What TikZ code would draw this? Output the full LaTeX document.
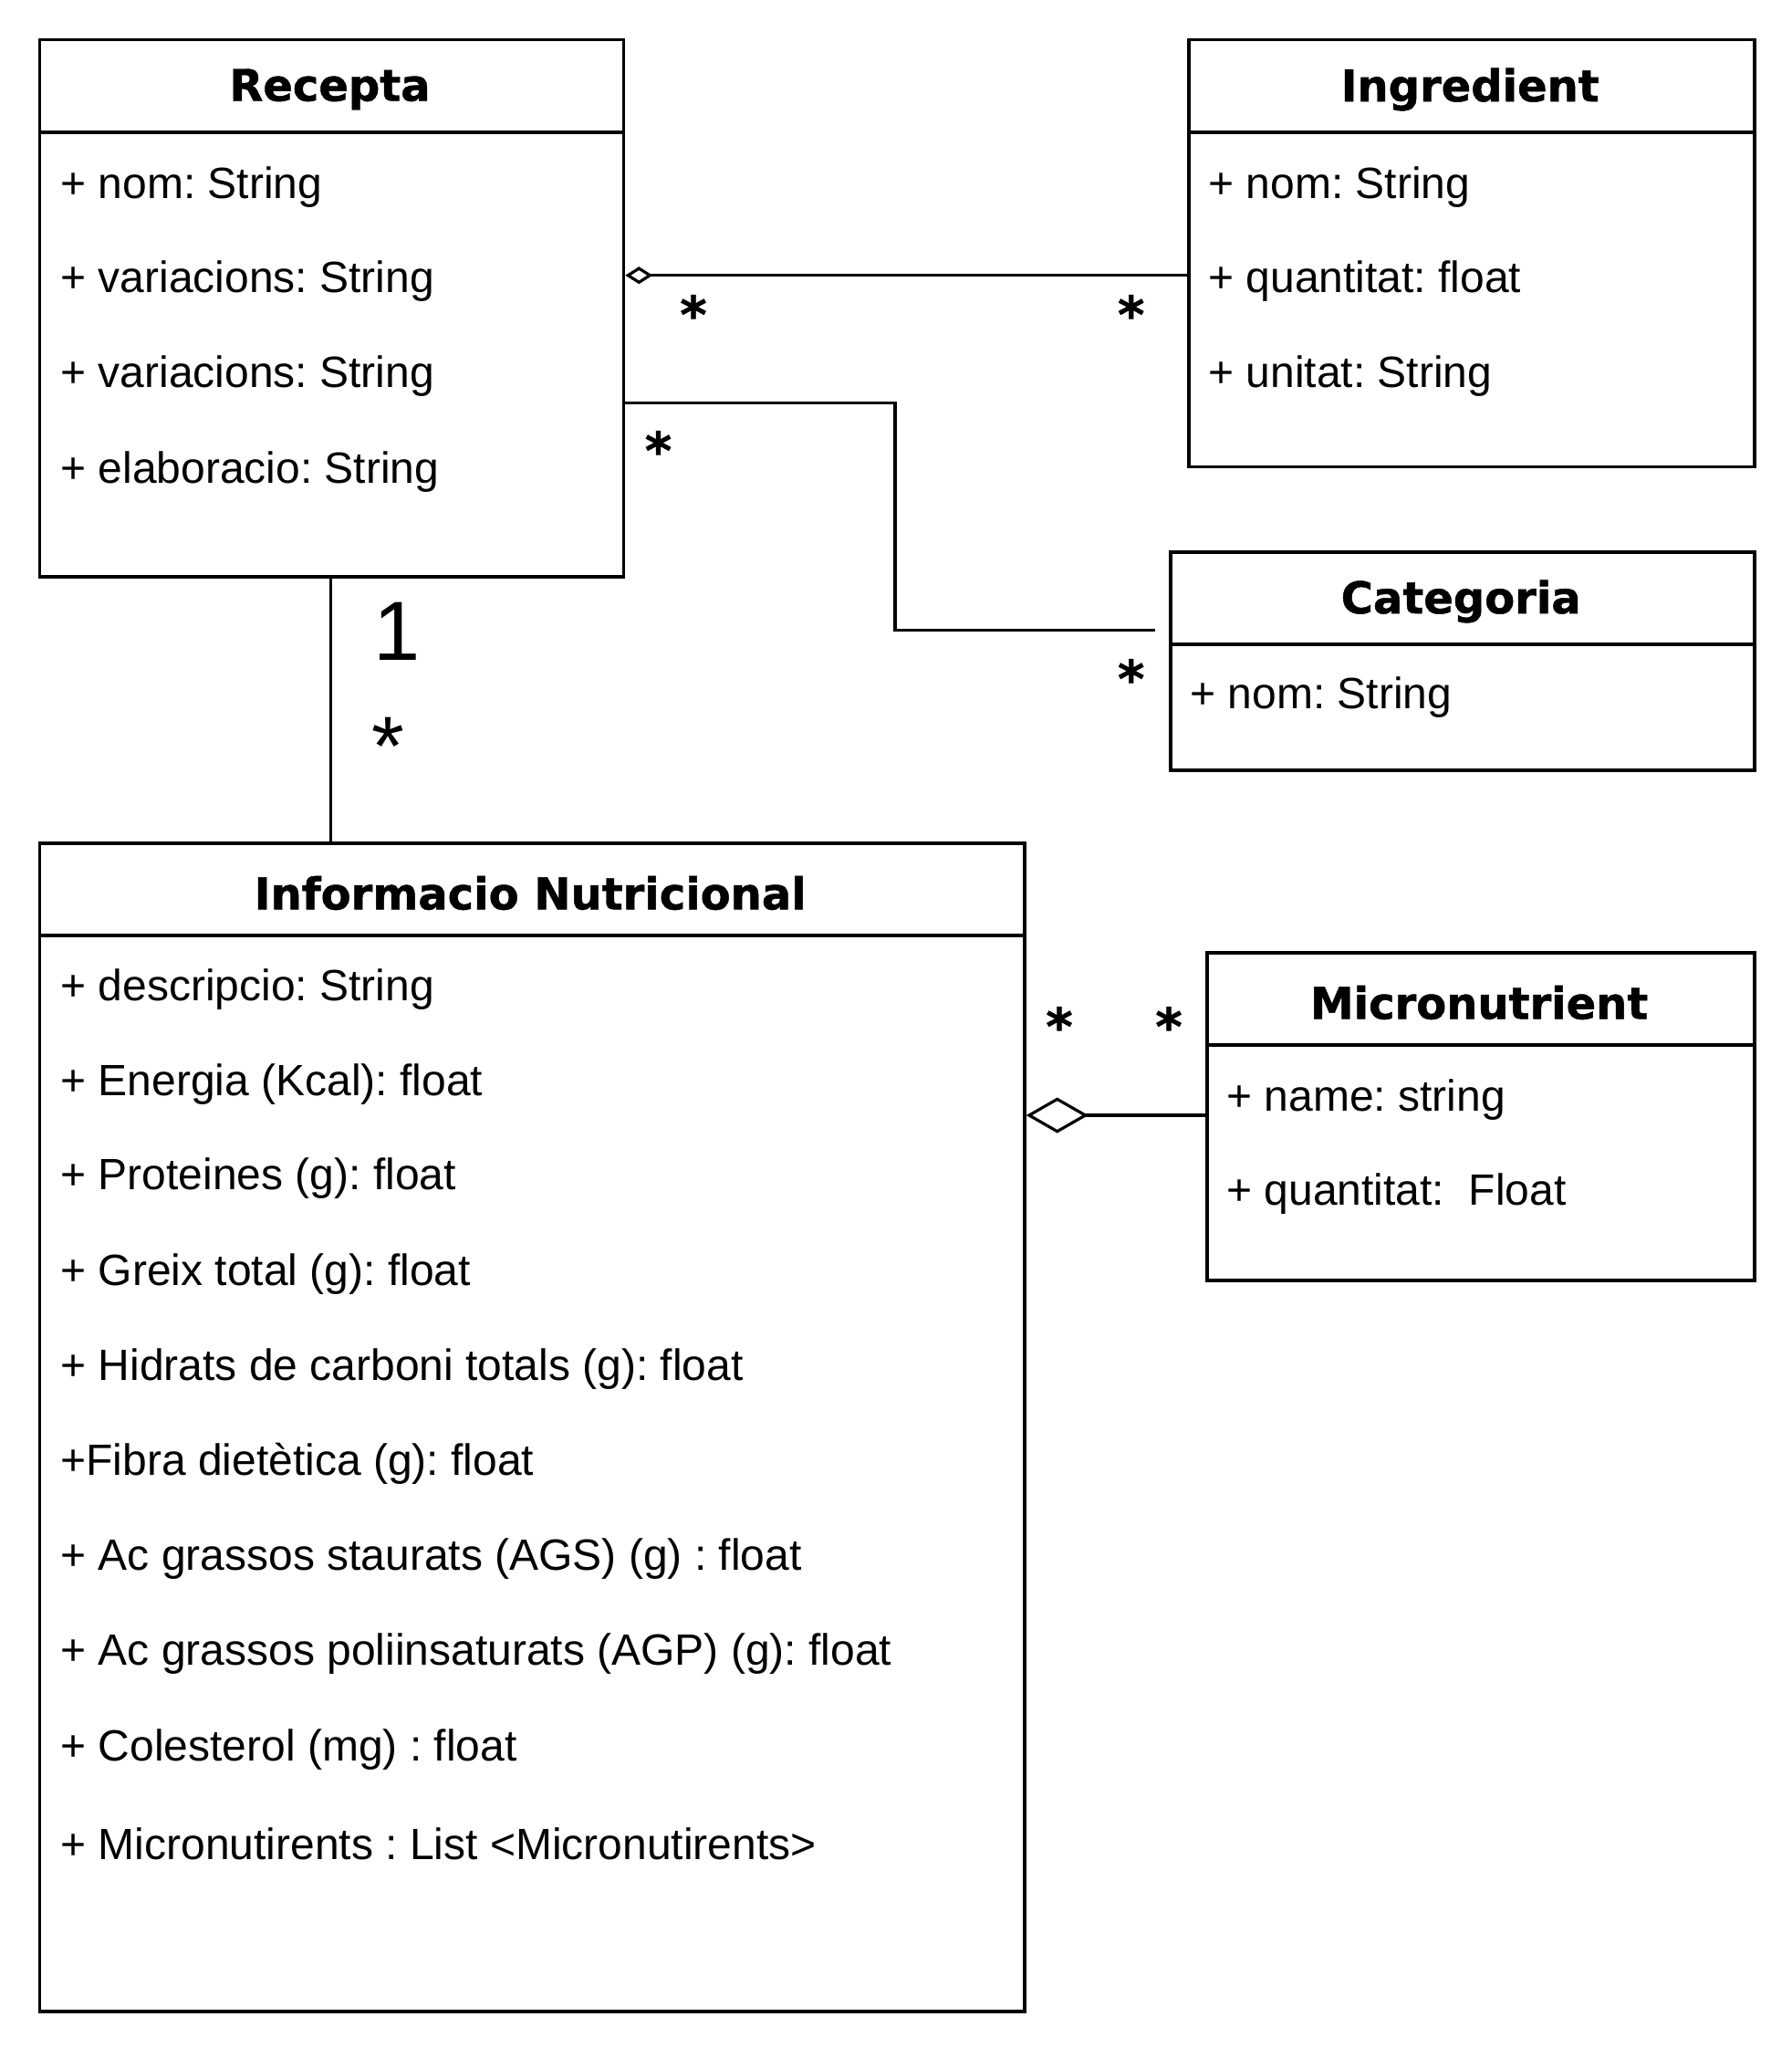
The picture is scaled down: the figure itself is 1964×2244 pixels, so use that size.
\documentclass[tikz,border=0pt]{standalone}
\usepackage{fontspec}
\setmainfont{Liberation Sans}
\newfontfamily\hdrfont{DejaVu Sans Bold}[FakeBold=1]
\usetikzlibrary{arrows.meta}
\frenchspacing
\tikzset{
  clsbox/.style={draw, line width=1.9pt, inner sep=0pt, anchor=north west},
  title/.style={font=\hdrfont\fontsize{24}{28}\selectfont, inner sep=0pt},
  attr/.style={font=\frenchspacing\fontsize{24}{28}\selectfont, anchor=west, inner sep=0pt},
  sep/.style={line width=1.9pt},
  conn/.style={line width=1.6pt},
  mult/.style={font=\hdrfont\fontsize{28}{32}\selectfont, inner sep=0pt},
  bigmult/.style={font=\fontsize{46}{50}\selectfont, inner sep=0pt},
}
\begin{document}
\begin{tikzpicture}[x=0.5pt,y=-0.5pt]
\useasboundingbox (0,0) rectangle (1964,2244);
% Recepta
\node[clsbox, minimum width=320pt, minimum height=294.2pt] (rec) at (41.5,41.5) {};
\draw[sep] (41.5,144.6) -- (681.5,144.6);
\node[title] (recT) at (361.5,98) {Recepta};
\node[attr] (rec1) at (66,205) {+ nom: String};
\node[attr] (rec2) at (66,308.5) {+ variacions: String};
\node[attr] (rec3) at (66,412.5) {+ variacions: String};
\node[attr] (rec4) at (66,517) {+ elaboracio: String};
% Ingredient
\node[clsbox, minimum width=310pt, minimum height=234pt] (ing) at (1301.2,41.5) {};
\draw[sep] (1301.2,144.6) -- (1921.2,144.6);
\node[title] (ingT) at (1611.2,98) {Ingredient};
\node[attr] (ing1) at (1324,205) {+ nom: String};
\node[attr] (ing2) at (1324,308.5) {+ quantitat: float};
\node[attr] (ing3) at (1324,412.5) {+ unitat: String};
% Categoria
\node[clsbox, minimum width=320pt, minimum height=119.5pt] (cat) at (1281.2,602.7) {};
\draw[sep] (1281.2,705.7) -- (1921.2,705.7);
\node[title] (catT) at (1601.2,659) {Categoria};
\node[attr] (cat1) at (1304,764.5) {+ nom: String};
% Informacio Nutricional
\node[clsbox, minimum width=539.7pt, minimum height=639.9pt] (inf) at (41.5,921.9) {};
\draw[sep] (41.5,1025) -- (1120.9,1025);
\node[title] (infT) at (581.2,978.5) {Informacio Nutricional};
\node[attr] (inf1) at (66,1084) {+ descripcio: String};
\node[attr] (inf2) at (66,1188.3) {+ Energia (Kcal): float};
\node[attr] (inf3) at (66,1291.5) {+ Proteines (g): float};
\node[attr] (inf4) at (66,1396) {+ Greix total (g): float};
\node[attr] (inf5) at (66,1500.4) {+ Hidrats de carboni totals (g): float};
\node[attr] (inf6) at (66,1603.5) {+Fibra dietètica (g): float};
\node[attr] (inf7) at (66,1708) {+ Ac grassos staurats (AGS) (g) : float};
\node[attr] (inf8) at (66,1812.5) {+ Ac grassos poliinsaturats (AGP) (g): float};
\node[attr] (inf9) at (66,1917) {+ Colesterol (mg) : float};
\node[attr] (inf10) at (66,2020) {+ Micronutirents : List <Micronutirents>};
% Micronutrient
\node[clsbox, minimum width=299.8pt, minimum height=179.6pt] (mic) at (1321.3,1042.1) {};
\draw[sep] (1321.3,1145.2) -- (1920.9,1145.2);
\node[title] (micT) at (1621.1,1098.5) {Micronutrient};
\node[attr] (mic1) at (1344,1205.5) {+ name: string};
\node[attr] (mic2) at (1344,1308.5) {+ quantitat:\ \ Float};
% connector levels
\coordinate (lvA) at (0,301.7);
\coordinate (lvB) at (0,441.5);
\coordinate (lvD) at (0,1222);
\coordinate (catEnd) at (1265.5,690.5);
% connectors
\draw[conn, {Diamond[open,length=15pt,width=9.5pt,line width=1.6pt]}-] (rec.east |- lvA) -- (ing.west |- lvA);
\draw[conn] (rec.east |- lvB) -- (981,441.5) -- (981,690.5) -- (catEnd);
\draw[conn] (rec.south -| 362.5,0) -- (inf.north -| 362.5,0);
\draw[conn, {Diamond[open,length=34pt,width=19.5pt,line width=1.6pt]}-] (inf.east |- lvD) -- (mic.west |- lvD);
% multiplicities
\node[mult] (m1) at (760,344) {*};
\node[mult] (m2) at (1239.7,344) {*};
\node[mult] (m3) at (721.5,493) {*};
\node[mult] (m4) at (1239.7,743) {*};
\node[bigmult] (m5) at (435,692) {1};
\node[bigmult] (m6) at (425,818) {*};
\node[mult] (m7) at (1161,1124) {*};
\node[mult] (m8) at (1281,1124) {*};
\end{tikzpicture}
\end{document}
